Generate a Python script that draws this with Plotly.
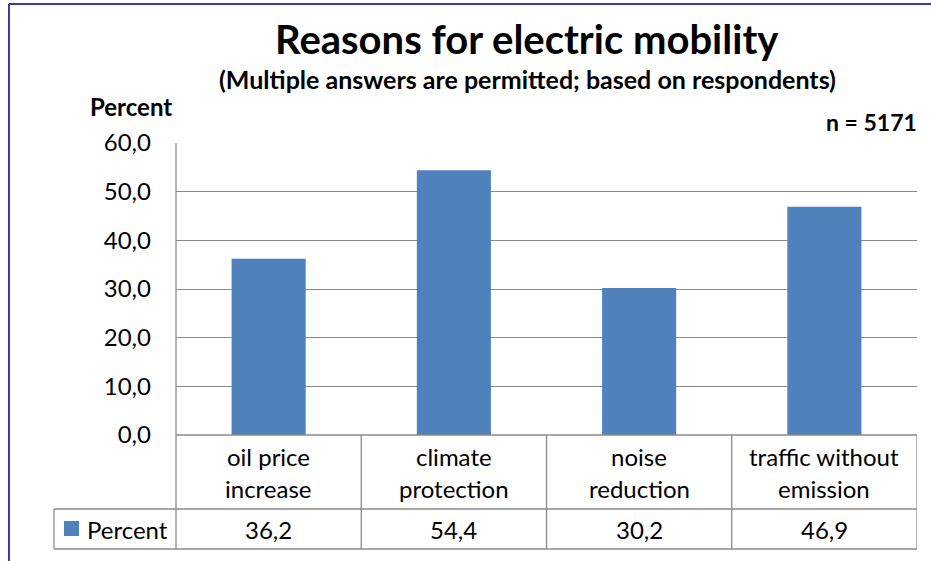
import plotly.graph_objects as go

# Survey data
category_lines = [
    ("oil price", "increase"),
    ("climate", "protection"),
    ("noise", "reduction"),
    ("traffic without", "emission"),
]
categories = [" ".join(parts) for parts in category_lines]
percent = [36.2, 54.4, 30.2, 46.9]
series_name = "Percent"
y_ticks = [0, 10, 20, 30, 40, 50, 60]

W, H = 931, 561
FONT = "Lato"
BAR = "#4F81BD"
GRID = "#8A8A8A"
FRAME = "#3B3BA3"


def px(x):
    return x / W


def py(y):
    return 1 - y / H


# pixel layout of the plot area and the data table beneath it
plot_left, plot_right = 176, 917
plot_top, plot_bottom = 143, 435
row_split, table_bottom = 509, 549
legend_left = 54

fig = go.Figure(
    go.Bar(
        x=categories,
        y=percent,
        marker=dict(color=BAR, line=dict(width=0)),
        name=series_name,
        showlegend=False,
        hoverinfo="x+y",
    )
)

fig.update_layout(
    width=W,
    height=H,
    autosize=False,
    margin=dict(l=0, r=0, t=0, b=0, pad=0, autoexpand=False),
    paper_bgcolor="white",
    plot_bgcolor="white",
    bargap=0.6,
    separators=",.",
    font=dict(family=FONT, color="black", size=24),
    xaxis=dict(
        domain=[px(plot_left), px(plot_right)],
        showticklabels=False,
        showgrid=False,
        zeroline=False,
        showline=False,
        automargin=False,
        range=[-0.5, len(categories) - 0.5],
        fixedrange=True,
    ),
    yaxis=dict(
        domain=[py(plot_bottom), py(plot_top)],
        range=[0, 60],
        tickvals=y_ticks,
        tickformat=".1f",
        showgrid=True,
        gridcolor=GRID,
        gridwidth=1.3,
        zeroline=False,
        showline=False,
        automargin=False,
        ticks="",
        ticklabelstandoff=24,
        tickfont=dict(family=FONT, size=24, color="black"),
        fixedrange=True,
    ),
)

shapes = []


def hline(x0, x1, y, xref="paper"):
    shapes.append(dict(type="line", xref=xref, yref="paper", x0=x0, x1=x1,
                       y0=py(y), y1=py(y), line=dict(color=GRID, width=1.3)))


def vline(x, y0, y1, xref="paper"):
    shapes.append(dict(type="line", xref=xref, yref="paper", x0=x, x1=x,
                       y0=py(y0), y1=py(y1), line=dict(color=GRID, width=1.3)))


# table grid
hline(px(plot_left), px(plot_right), plot_bottom)
hline(px(legend_left), px(plot_right), row_split)
hline(px(legend_left), px(plot_right), table_bottom)
vline(px(plot_left), plot_top, table_bottom)
vline(px(legend_left), row_split, table_bottom)
for i in range(1, len(categories) + 1):
    vline(i - 0.5, plot_bottom, table_bottom, xref="x")

# legend key square
shapes.append(dict(type="rect", xref="paper", yref="paper",
                   x0=px(64), x1=px(79), y0=py(536), y1=py(521),
                   fillcolor=BAR, line=dict(width=0)))

# outer frame (top and left edges)
shapes.append(dict(type="line", xref="paper", yref="paper", x0=px(9), x1=1,
                   y0=py(4), y1=py(4), line=dict(color=FRAME, width=2)))
shapes.append(dict(type="line", xref="paper", yref="paper", x0=px(9), x1=px(9),
                   y0=py(4), y1=0, line=dict(color=FRAME, width=2)))

annotations = []


def text(s, x, y, xref="paper", size=24, bold=False, xanchor="center"):
    annotations.append(dict(
        text=f"<b>{s}</b>" if bold else s,
        x=x, y=py(y), xref=xref, yref="paper",
        xanchor=xanchor, yanchor="middle", showarrow=False,
        font=dict(family=FONT, size=size, color="black"),
    ))


text("Reasons for electric mobility", px(527), 39, size=40, bold=True)
text("(Multiple answers are permitted; based on respondents)", px(527), 79,
     size=25, bold=True)
text("Percent", px(131), 106, size=24, bold=True)
text("n = 5171", px(919), 122, size=23, bold=True, xanchor="right")

for i, (l1, l2) in enumerate(category_lines):
    text(l1, i, 456, xref="x")
    text(l2, i, 488, xref="x")
    text(f"{percent[i]:.1f}".replace(".", ","), i, 529, xref="x")

text(series_name, px(85), 529, xanchor="left")

fig.update_layout(shapes=shapes, annotations=annotations)
fig.write_html("out.html")
